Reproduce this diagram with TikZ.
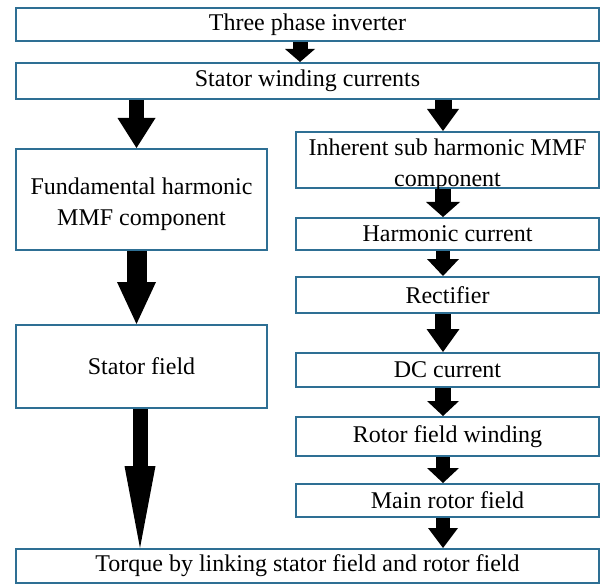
\documentclass[tikz,border=0pt]{standalone}
\usepackage{fontspec}
\setmainfont{Liberation Serif}
\usetikzlibrary{arrows.meta}
\definecolor{boxblue}{RGB}{46,111,148}
\tikzset{
  box/.style 2 args={draw=boxblue, line width=2pt, inner sep=0pt,
    minimum width=#1, minimum height=#2, align=center},
  flow/.style n args={3}{draw=black, line width=#1,
    -{Triangle[width=#2, length=#3, line width=0pt]}}
}

\begin{document}
\begin{tikzpicture}[x=1pt,y=-1pt,font=\fontsize{24}{31}\selectfont]
\useasboundingbox (0,0) rectangle (604,585);
% full width boxes
\draw (307.5,24.5) node[box={583pt}{33pt}] (inv) {Three phase inverter};
\draw (307.5,81) node[box={583pt}{36pt}] (cur) {Stator winding currents};
\draw (307.5,566) node[box={583pt}{34pt}] (torq) {Torque by linking stator field and rotor field};
% left column
\draw (141.5,199.5) node[box={251pt}{101pt}] (fund) {};
\node[align=center] (fundtxt) at ([yshift=-5pt]fund.center) {Fundamental harmonic\\MMF component};
\draw (141.5,366.5) node[box={251pt}{83pt}] (stat) {Stator field};
% right column
\draw (447.5,160) node[box={303pt}{56pt}] (inh) {};
\node[align=center] (inhtxt) at ([yshift=-5pt]inh.center) {Inherent sub harmonic MMF\\component};
\draw (447.5,234) node[box={303pt}{32pt}] (harm) {Harmonic current};
\draw (447.5,295) node[box={303pt}{36pt}] (rect) {Rectifier};
\draw (447.5,370) node[box={303pt}{34pt}] (dc) {DC current};
\draw (447.5,436.5) node[box={303pt}{39pt}] (wind) {Rotor field winding};
\draw (447.5,500.5) node[box={303pt}{33pt}] (rotf) {Main rotor field};
% arrow columns
\coordinate (a0) at ([xshift=-7.5pt]inv.south);
\coordinate (al) at ([xshift=-5pt]fund.north);
\coordinate (ar) at ([xshift=-4.5pt]inh.north);
\path (a0) edge[flow={15pt}{30pt}{13pt}] (a0 |- cur.north);
\path (al |- cur.south) edge[flow={15pt}{38pt}{30pt}] (al);
\path (ar |- cur.south) edge[flow={17pt}{32pt}{22pt}] (ar);
\path (al |- fund.south) edge[flow={20pt}{39pt}{42pt}] (al |- stat.north);
\path ([xshift=-1.5pt]stat.south) edge[flow={15pt}{31pt}{82pt}] ([xshift=-1.5pt]stat.south |- torq.north);
\path (ar |- inh.south) edge[flow={16pt}{34pt}{15pt}] (ar |- harm.north);
\path (ar |- harm.south) edge[flow={14pt}{32pt}{17pt}] (ar |- rect.north);
\path (ar |- rect.south) edge[flow={16pt}{33pt}{23pt}] (ar |- dc.north);
\path (ar |- dc.south) edge[flow={16pt}{32pt}{15pt}] (ar |- wind.north);
\path (ar |- wind.south) edge[flow={14pt}{32pt}{15pt}] (ar |- rotf.north);
\path (ar |- rotf.south) edge[flow={14pt}{30pt}{20pt}] (ar |- torq.north);
\end{tikzpicture}
\end{document}
